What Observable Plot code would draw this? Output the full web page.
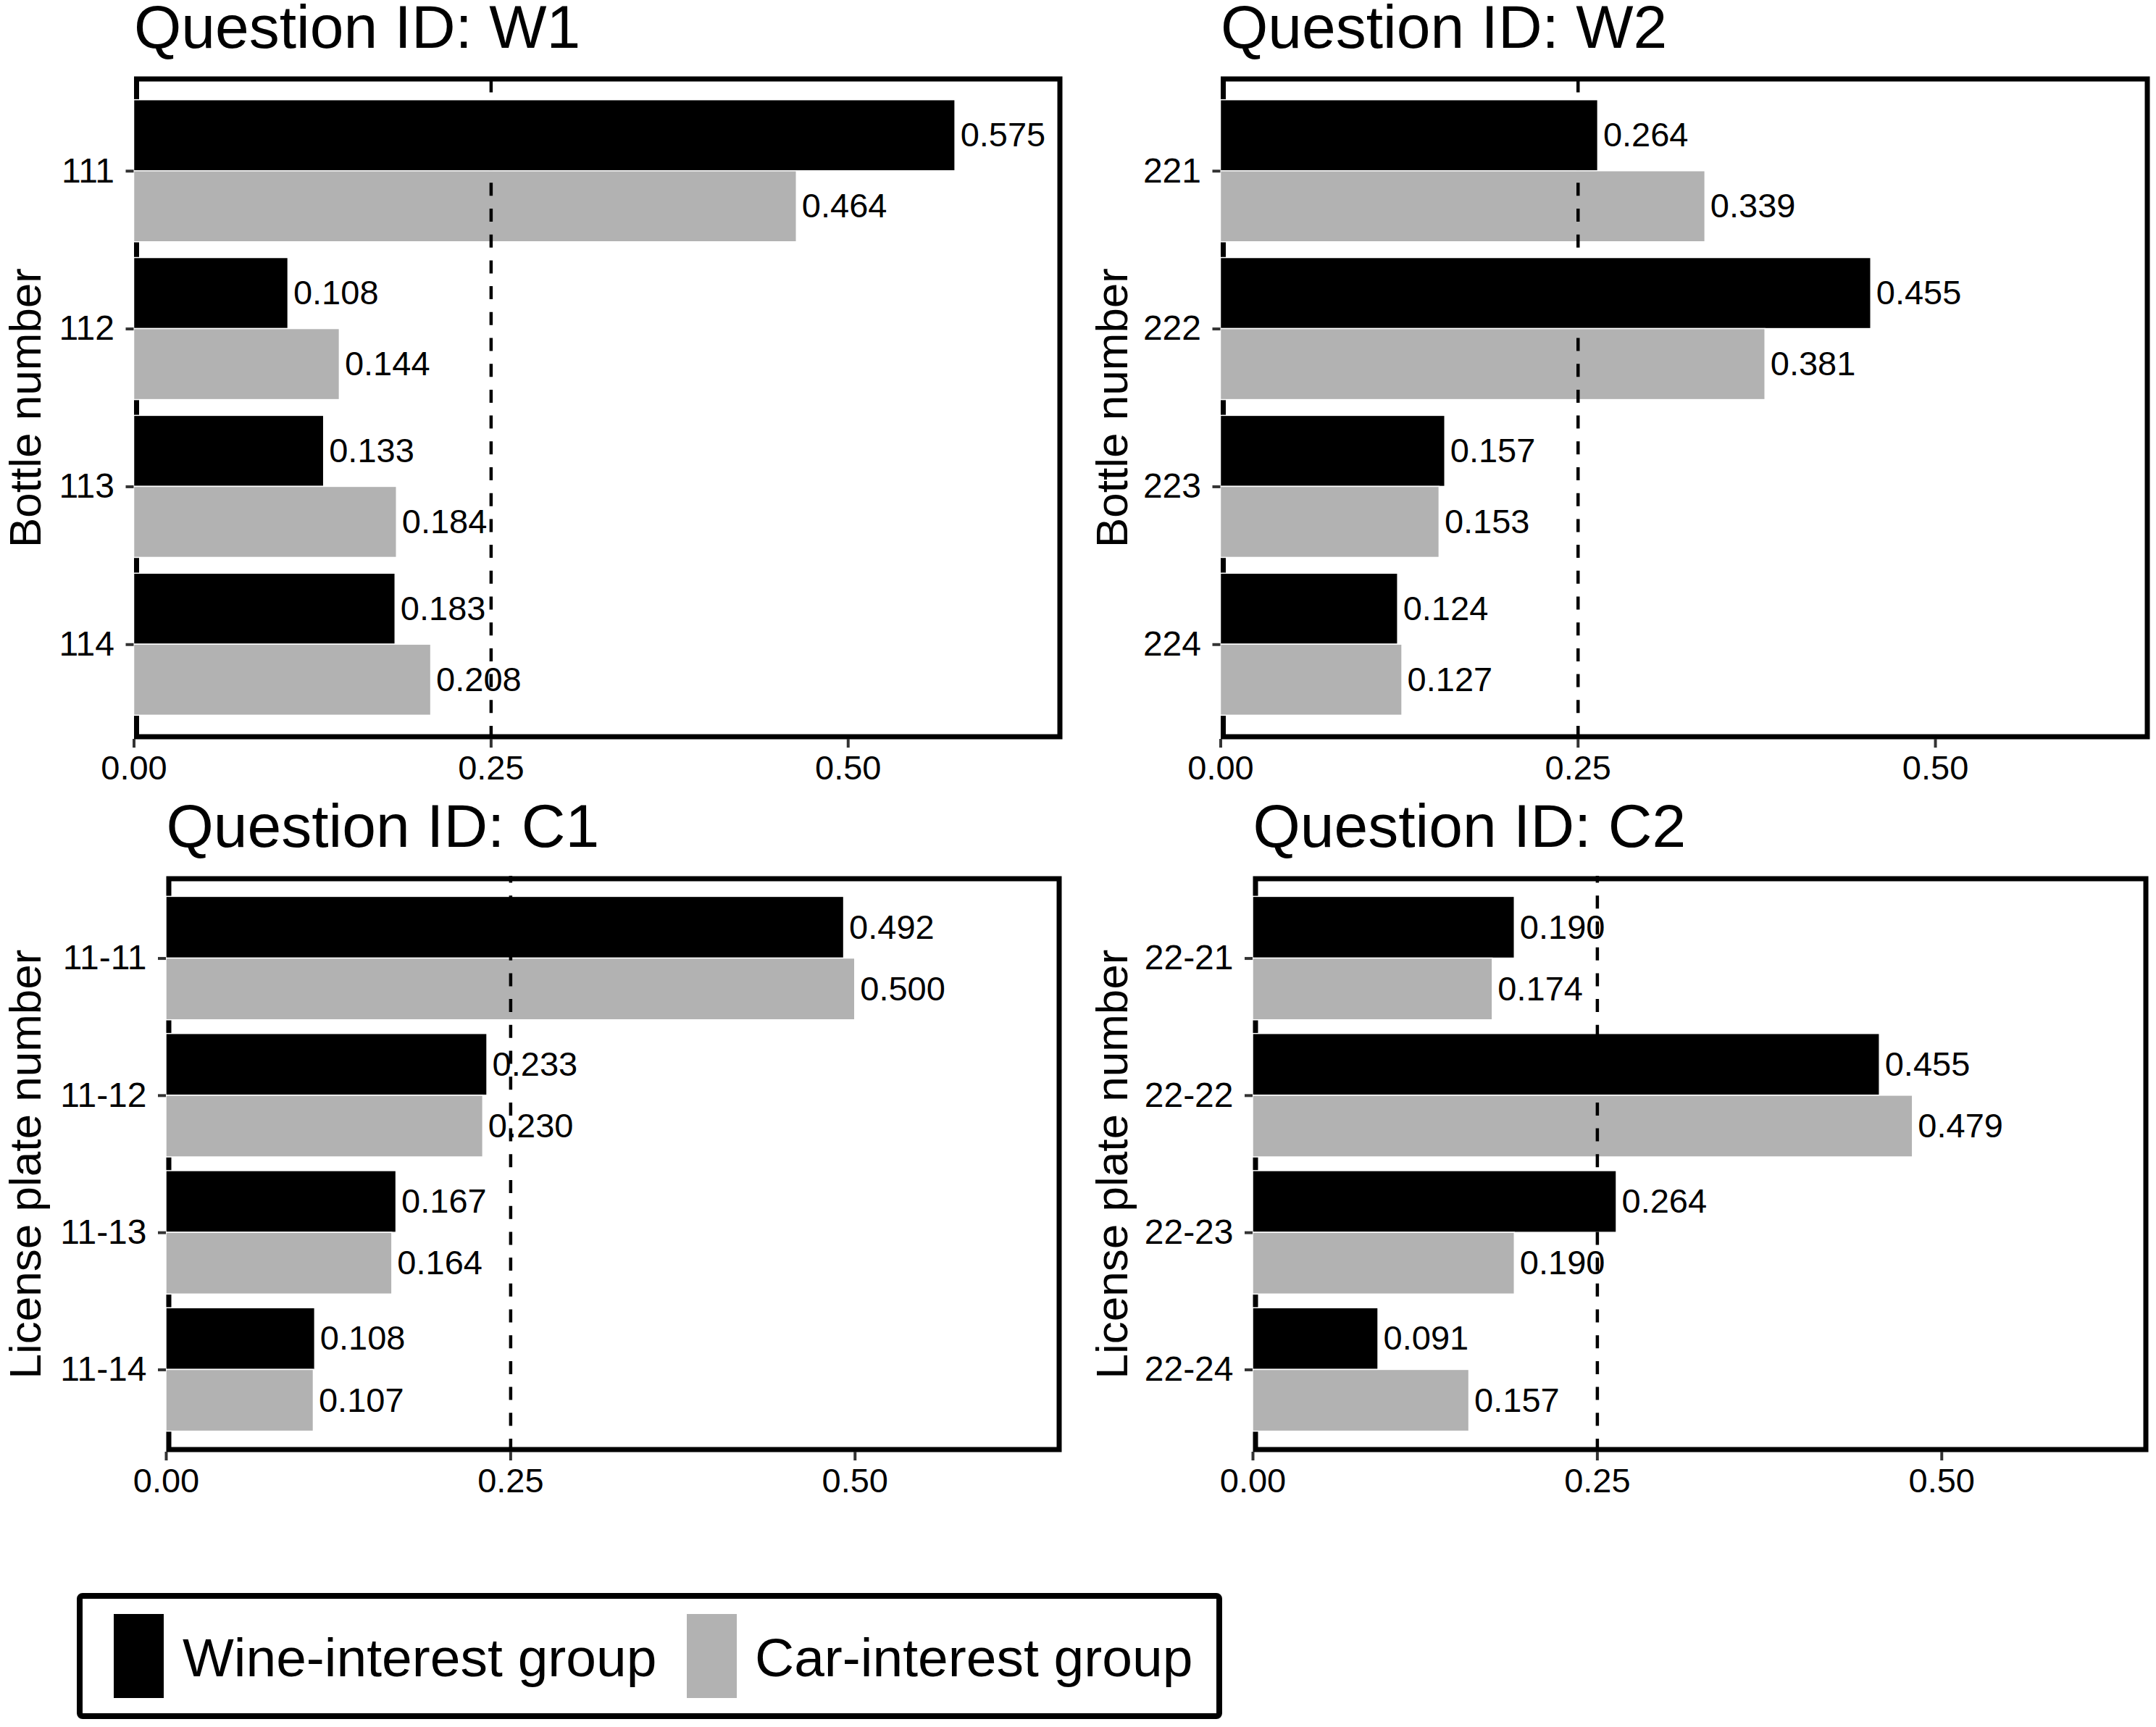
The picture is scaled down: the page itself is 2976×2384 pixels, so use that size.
<!DOCTYPE html>
<html>
<head>
<meta charset="utf-8">
<script src="https://cdn.jsdelivr.net/npm/d3@7"></script>
<script src="https://cdn.jsdelivr.net/npm/@observablehq/plot@0.6"></script>
<style>
html, body { margin: 0; padding: 0; background: #fff; }
#root { position: relative; width: 2976px; height: 2384px; background: #fff; overflow: hidden; }
.panel { position: absolute; }
</style>
</head>
<body>
<div id="root"></div>
<script>
// ---- data ----
const groups = ["Wine-interest group", "Car-interest group"];
const groupColors = ["#000000", "#B2B2B2"];

const w1Bottles = ["111", "112", "113", "114"];
const w1Wine = [0.575, 0.108, 0.133, 0.183];
const w1Car = [0.464, 0.144, 0.184, 0.208];

const w2Bottles = ["221", "222", "223", "224"];
const w2Wine = [0.264, 0.455, 0.157, 0.124];
const w2Car = [0.339, 0.381, 0.153, 0.127];

const c1Plates = ["11-11", "11-12", "11-13", "11-14"];
const c1Wine = [0.492, 0.233, 0.167, 0.108];
const c1Car = [0.500, 0.230, 0.164, 0.107];

const c2Plates = ["22-21", "22-22", "22-23", "22-24"];
const c2Wine = [0.190, 0.455, 0.264, 0.091];
const c2Car = [0.174, 0.479, 0.190, 0.157];

const xTicks = [0, 0.25, 0.50];
const chanceLevel = 0.25;

const FONT = "'Liberation Sans', Arial, Helvetica, sans-serif";
const root = document.getElementById("root");

function panel(cfg) {
  const {title, yLabel, cats, wine, car, left, top, width, height, m, labelDx, titleDy, dashOffset} = cfg;
  const rows = [];
  cats.forEach((c, i) => {
    rows.push({cat: c, idx: i, gi: 0, group: groups[0], value: wine[i]});
    rows.push({cat: c, idx: i, gi: 1, group: groups[1], value: car[i]});
  });
  const half = 0.45;
  const svg = Plot.plot({
    width, height,
    marginLeft: m[0], marginRight: m[1], marginTop: m[2], marginBottom: m[3],
    style: {fontFamily: FONT, background: "white", overflow: "visible", color: "black"},
    x: {domain: [0, 0.65]},
    y: {domain: [-0.6, cats.length - 1 + 0.6], reverse: true},
    color: {domain: groups, range: groupColors},
    marks: [
      Plot.frame({stroke: "black", strokeWidth: 7, inset: 3.5}),
      Plot.rect(rows, {
        x1: 0, x2: "value",
        y1: d => d.gi === 0 ? d.idx - half : d.idx,
        y2: d => d.gi === 0 ? d.idx : d.idx + half,
        fill: "group", stroke: "white", strokeWidth: 1.5
      }),
      Plot.ruleX([chanceLevel], {stroke: "black", strokeWidth: 4.5, strokeDasharray: "18,17.7", strokeDashoffset: dashOffset}),
      Plot.text(rows, {
        x: "value",
        y: d => d.idx + (d.gi === 0 ? -half / 2 : half / 2),
        text: d => d3.format(".3f")(d.value),
        textAnchor: "start", dx: 7, fontSize: 47, fill: "black"
      }),
      Plot.axisX({ticks: xTicks, tickFormat: d3.format(".2f"), tickSize: 12, tickPadding: 10, fontSize: 47, stroke: "#333333", strokeWidth: 4, fill: "black", label: null}),
      Plot.axisY({ticks: cats.map((c, i) => i), tickFormat: i => cats[i], tickSize: 11, tickPadding: 16, fontSize: 48, stroke: "#333333", strokeWidth: 4, fill: "black", label: null}),
      Plot.text([title], {frameAnchor: "top-left", text: d => d, textAnchor: "start", lineAnchor: "bottom", dy: titleDy, fontSize: 84, fill: "black"}),
      Plot.text([yLabel], {frameAnchor: "left", text: d => d, rotate: -90, textAnchor: "middle", lineAnchor: "bottom", dx: -labelDx, fontSize: 62, fill: "black"})
    ]
  });
  const div = document.createElement("div");
  div.className = "panel";
  div.style.left = left + "px";
  div.style.top = top + "px";
  div.appendChild(svg);
  root.appendChild(div);
}

panel({title: "Question ID: W1", yLabel: "Bottle number", cats: w1Bottles, wine: w1Wine, car: w1Car,
  left: 0, top: 0, width: 1500, height: 1100, m: [184.5, 34, 105, 80], labelDx: 129.5, titleDy: -40, dashOffset: 31.2});
panel({title: "Question ID: W2", yLabel: "Bottle number", cats: w2Bottles, wine: w2Wine, car: w2Car,
  left: 1500, top: 0, width: 1476, height: 1100, m: [184.5, 9, 105, 80], labelDx: 129.5, titleDy: -40, dashOffset: 31.2});
panel({title: "Question ID: C1", yLabel: "License plate number", cats: c1Plates, wine: c1Wine, car: c1Car,
  left: 0, top: 1100, width: 1500, height: 1000, m: [229, 35, 109, 96], labelDx: 174, titleDy: -41, dashOffset: 8.4});
panel({title: "Question ID: C2", yLabel: "License plate number", cats: c2Plates, wine: c2Wine, car: c2Car,
  left: 1500, top: 1100, width: 1476, height: 1000, m: [229, 11, 109, 96], labelDx: 174, titleDy: -41, dashOffset: 8.4});

// ---- legend (below the panels) ----
const legend = d3.create("svg")
  .attr("width", 1800).attr("height", 234)
  .style("position", "absolute").style("left", "0px").style("top", "2150px")
  .style("font-family", FONT);
legend.append("rect")
  .attr("x", 110).attr("y", 53).attr("width", 1573).attr("height", 166)
  .attr("rx", 4).attr("fill", "white").attr("stroke", "black").attr("stroke-width", 8);
const keyX = [157, 948];
const textX = [252, 1042];
groups.forEach((g, i) => {
  legend.append("rect").attr("x", keyX[i]).attr("y", 78).attr("width", 69).attr("height", 116)
    .attr("fill", groupColors[i]);
  legend.append("text").attr("x", textX[i]).attr("y", 164).attr("font-size", 75)
    .attr("fill", "black").text(g);
});
root.appendChild(legend.node());
</script>
</body>
</html>
